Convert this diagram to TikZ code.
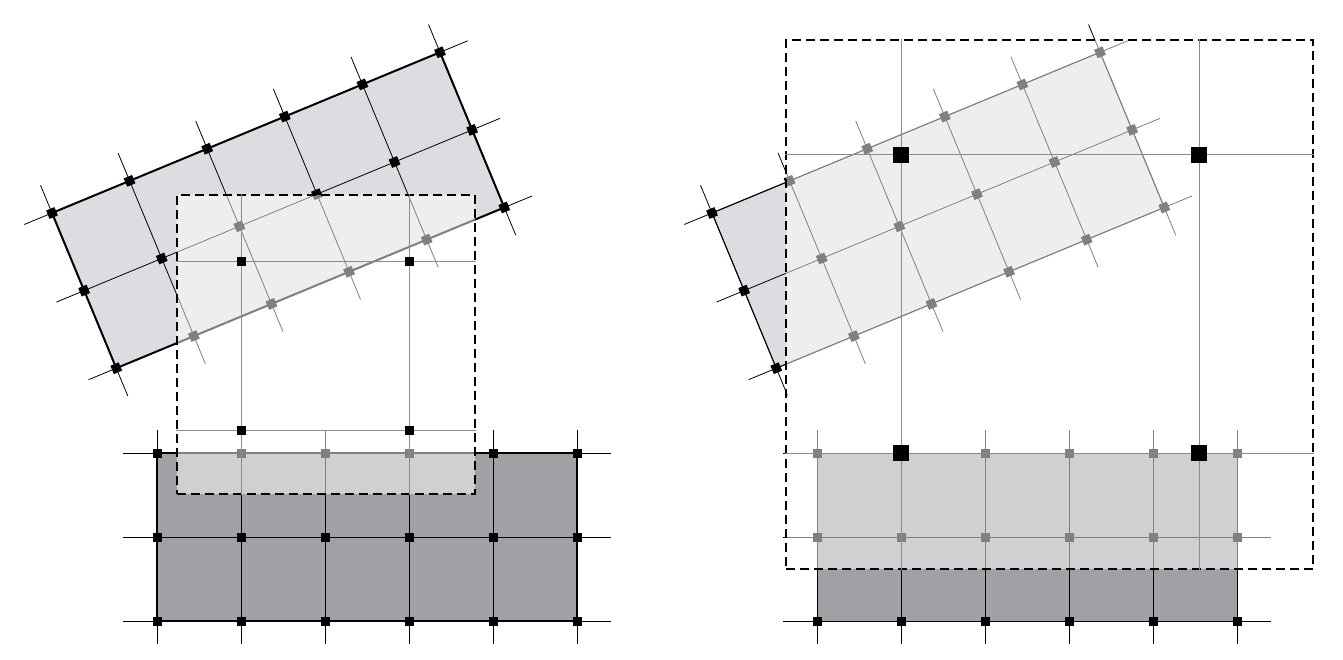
\documentclass[tikz,border=0pt]{standalone}
\usetikzlibrary{positioning}
\definecolor{slab}{HTML}{A0A1A5}
\definecolor{tilt}{HTML}{DCDDE0}

\begin{document}
\begin{tikzpicture}[x=1pt, y=-1pt,
  knot/.style={rectangle, fill=black, inner sep=0pt, minimum size=9pt},
  bigknot/.style={knot, minimum size=16pt},
  gridline/.style={line width=0.8pt},
  boxline/.style={draw=black!45, line width=1pt},
  cutbox/.style={draw, line width=2pt, dash pattern=on 9pt off 5pt,
    fill=white, fill opacity=0.5, draw opacity=1, inner sep=0pt}]
  \useasboundingbox (0,0) rectangle (1343,660);

  \foreach \dx/\p/\rw in {0/l/2, 660/r/1} {
    % flat grid
    \begin{scope}[shift={(157+\dx,453)}]
      \fill[slab] (0,0) rectangle (420,168);
      \foreach \j in {0,1,2}
        \draw[gridline] (-34,84*\j) -- (454,84*\j);
      \foreach \i in {0,...,5}
        \draw[gridline] (84*\i,-23) -- (84*\i,191);
      \draw[line width=\rw pt] (0,0) rectangle (420,168);
      \foreach \i in {0,...,5}
        \foreach \j in {0,1,2}
          \node[knot] (\p f\i\j) at (84*\i,84*\j) {};
    \end{scope}
    % tilted grid
    \begin{scope}[shift={(52+\dx,213)}, rotate=22.5]
      \fill[tilt] (0,0) rectangle (420,168);
      \foreach \j in {0,1,2}
        \draw[gridline] (-30,84*\j) -- (450,84*\j);
      \foreach \i in {0,...,5}
        \draw[gridline] (84*\i,-30) -- (84*\i,198);
      \draw[line width=\rw pt] (0,0) rectangle (420,168);
      \foreach \i in {0,...,5}
        \foreach \j in {0,1,2}
          \node[knot, transform shape] (\p t\i\j) at (84*\i,84*\j) {};
    \end{scope}
  }

  % left crop box
  \node[cutbox, minimum width=298pt, minimum height=299pt] (lbox) at (326,344.5) {};
  \coordinate (lk11) at (241,262);
  \coordinate (lk22) at (409,430);
  \draw[boxline] (lbox.west |- lk11) -- (lbox.east |- lk11);
  \draw[boxline] (lbox.west |- lk22) -- (lbox.east |- lk22);
  \draw[boxline] (lk11 |- lbox.north) -- (lk11 |- lbox.south);
  \draw[boxline] (lk22 |- lbox.north) -- (lk22 |- lbox.south);
  \node[knot] (lc11) at (lk11) {};
  \node[knot] (lc21) at (lk22 |- lk11) {};
  \node[knot] (lc12) at (lk11 |- lk22) {};
  \node[knot] (lc22) at (lk22) {};

  % right crop box
  \node[cutbox, minimum width=527pt, minimum height=529pt] (rbox) at (1049.5,304.5) {};
  \coordinate (rk11) at (901,155);
  \coordinate (rk22) at (1199,453);
  \draw[boxline] (rbox.west |- rk11) -- (rbox.east |- rk11);
  \draw[boxline] (rbox.west |- rk22) -- (rbox.east |- rk22);
  \draw[boxline] (rk11 |- rbox.north) -- (rk11 |- rbox.south);
  \draw[boxline] (rk22 |- rbox.north) -- (rk22 |- rbox.south);
  \node[bigknot] (rc11) at (rk11) {};
  \node[bigknot] (rc21) at (rk22 |- rk11) {};
  \node[bigknot] (rc12) at (rk11 |- rk22) {};
  \node[bigknot] (rc22) at (rk22) {};
\end{tikzpicture}
\end{document}
